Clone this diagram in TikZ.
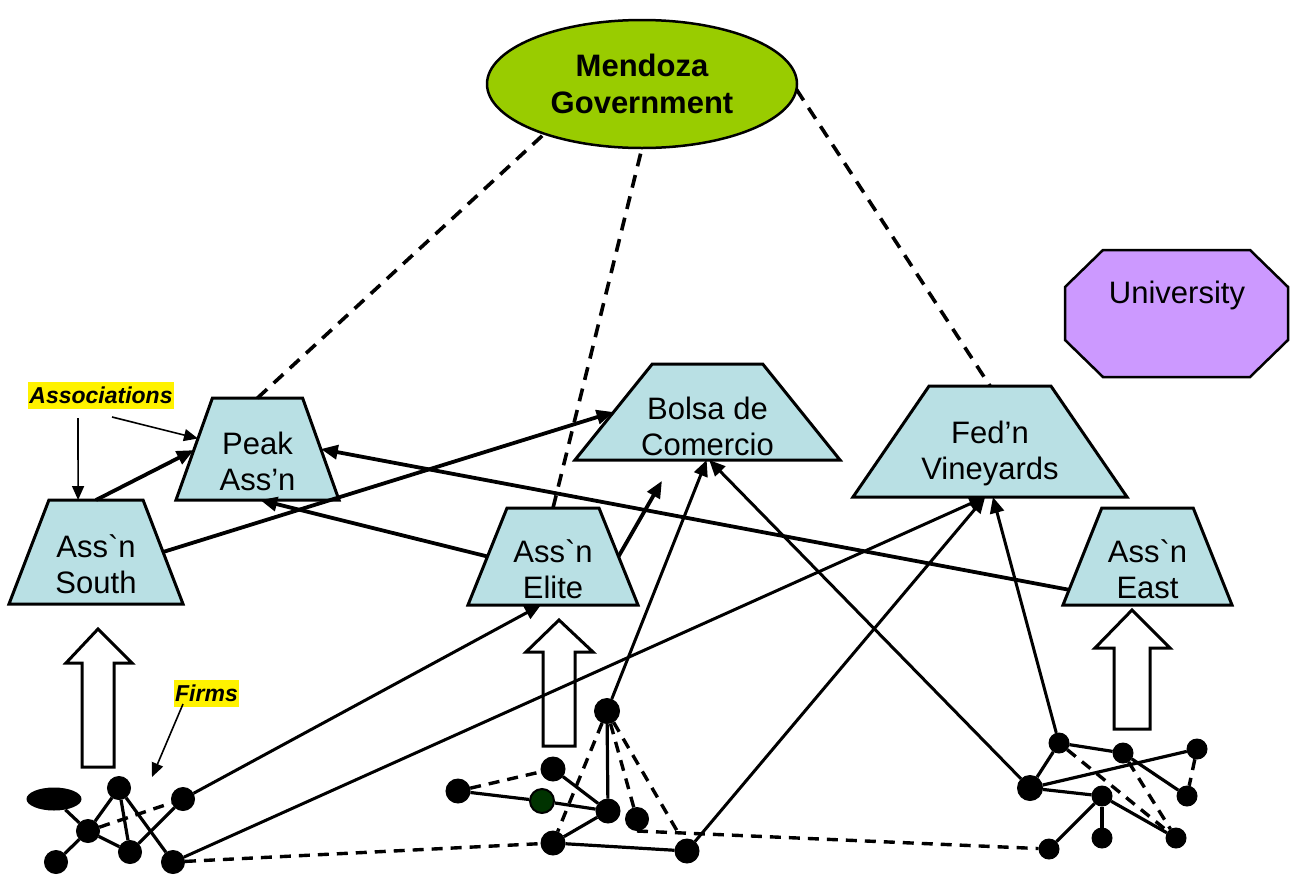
\documentclass[tikz,border=0pt]{standalone}
\usepackage{fontspec}
\setmainfont{Liberation Sans}[Ligatures=TeXOff]
\usetikzlibrary{shapes.geometric,arrows.meta,calc}
\definecolor{govgreen}{RGB}{153,204,0}
\definecolor{assocblue}{RGB}{185,224,228}
\definecolor{unipurple}{RGB}{204,153,255}
\definecolor{firmgreen}{RGB}{0,51,0}
\begin{document}
\begin{tikzpicture}[x=1pt,y=-1pt,
  assoc/.style={trapezium, draw, line width=3pt, fill=assocblue, trapezium stretches=true, inner sep=1pt, outer sep=0pt},
  txt/.style={font=\fontsize{31}{36}\selectfont, align=center},
  hl/.style={fill=yellow, font=\fontsize{23}{27}\selectfont\bfseries\itshape, inner xsep=1pt, inner ysep=0pt, minimum height=27pt},
  firm/.style={circle, fill=black, draw=black, line width=1pt, inner sep=0pt, minimum size=23pt},
  sfirm/.style={firm, minimum size=20pt},
  blockarr/.style={draw, fill=white, line width=3pt, line join=miter},
  bigarr/.style={line width=3.8pt, -{Triangle[length=17pt,width=14pt]}},
  farr/.style={line width=3pt, -{Triangle[length=16pt,width=14pt]}},
  thinarr/.style={line width=1.6pt, -{Triangle[length=14pt,width=12pt]}},
  govdash/.style={line width=3.6pt, dash pattern=on 13pt off 9pt},
  fl/.style={line width=3.2pt},
  fd/.style={line width=3.4pt, dash pattern=on 11pt off 8pt}
]
\useasboundingbox (0,0) rectangle (1295,876);

% block arrows
\draw[blockarr] (98,629) -- (132,663) -- (114,663) -- (114,767) -- (82,767) -- (82,663) -- (66,663) -- cycle;
\draw[blockarr] (559,620) -- (593,652) -- (575,652) -- (575,746) -- (543,746) -- (543,652) -- (526,652) -- cycle;
\draw[blockarr] (1132,610) -- (1170,648) -- (1150,648) -- (1150,729) -- (1114,729) -- (1114,648) -- (1095,648) -- cycle;

% government
\node[ellipse, draw, line width=2.5pt, fill=govgreen, minimum width=310pt, minimum height=128pt, inner sep=0pt, outer sep=0pt, font=\fontsize{31}{37}\selectfont\bfseries, align=center] (gov) at (642,84) {Mendoza\\Government};

% university
\draw[line width=2.5pt, fill=unipurple] (1103,250) -- (1250,250) -- (1288,287) -- (1288,340) -- (1250,377) -- (1103,377) -- (1065,340) -- (1065,287) -- cycle;
\node[txt] (univ) at (1177,295) {University};

% associations
\node[assoc, minimum width=163pt, minimum height=102pt, trapezium left angle=68, trapezium right angle=68,
  label={[txt,yshift=-12pt]center:{Peak\\Ass’n}}] (peak) at (257.5,449) {};
\node[assoc, minimum width=174pt, minimum height=104pt, trapezium left angle=67, trapezium right angle=67,
  label={[txt,yshift=-12pt]center:{Ass`n\\South}}] (south) at (96,552) {};
\node[assoc, minimum width=265pt, minimum height=96pt, trapezium left angle=55, trapezium right angle=55,
  label={[txt,yshift=-14pt]center:{Bolsa de\\Comercio}}] (bolsa) at (707.5,412) {};
\node[assoc, minimum width=170pt, minimum height=97pt, trapezium left angle=67, trapezium right angle=67,
  label={[txt,yshift=-13pt]center:{Ass`n\\Elite}}] (elite) at (553,556.5) {};
\node[assoc, minimum width=274pt, minimum height=111pt, trapezium left angle=58, trapezium right angle=58,
  label={[txt,yshift=-12pt]center:{Fed’n\\Vineyards}}] (fedn) at (990,441.5) {};
\node[assoc, minimum width=169pt, minimum height=97pt, trapezium left angle=67, trapezium right angle=67,
  label={[txt,yshift=-13pt]center:{Ass`n\\East}}] (east) at (1147.5,556.5) {};

% labels
\node[hl] (assoclab) at (101,395.5) {Associations};
\node[hl] (firmlab) at (206.5,693) {Firms};
\coordinate (a1) at (78,418);
\coordinate (a2) at (112,417);
\coordinate (f1) at (183,704);
\coordinate (f2) at (152,777);

% firms: left cluster
\node[ellipse, fill=black, inner sep=0pt, minimum width=55pt, minimum height=23pt] (L1) at (54,799) {};
\node[firm] (L2) at (119,788) {};
\node[firm] (L3) at (88,831) {};
\node[firm] (L4) at (130,852) {};
\node[firm] (L5) at (183,799) {};
\node[firm] (L6) at (173,862) {};
\node[firm] (L7) at (56,862) {};

% middle cluster
\node[firm, minimum size=25pt] (M1) at (607,711) {};
\node[firm, minimum size=24pt] (M2) at (553,769) {};
\node[firm, minimum size=24pt] (M3) at (458,791) {};
\node[firm, minimum size=24pt, fill=firmgreen, line width=2pt] (M4) at (542,801) {};
\node[firm, minimum size=24pt] (M5) at (608,811) {};
\node[firm] (M6) at (637,819) {};
\node[firm, minimum size=24pt] (M7) at (553,843) {};
\node[firm, minimum size=24pt] (M8) at (687,851) {};

% right cluster
\node[sfirm] (R1) at (1059,743) {};
\node[sfirm] (R2) at (1123,753) {};
\node[sfirm] (R3) at (1197,749) {};
\node[firm, minimum size=25pt] (R4) at (1030,788) {};
\node[sfirm] (R5) at (1102,796) {};
\node[sfirm] (R6) at (1187,796) {};
\node[sfirm] (R7) at (1102,838) {};
\node[sfirm] (R8) at (1176,838) {};
\node[sfirm] (R9) at (1049,849) {};
\coordinate (mj) at ($(M6.south)!0.1!(R9)$);

% government links
\draw[govdash] (peak.north) -- (gov.207);
\draw[govdash] (elite.north) -- (gov.south);
\draw[govdash] (gov.358) -- (fedn.north);

% label arrows
\draw[thinarr] (a1) -- (south.109);
\draw[thinarr] (a2) -- (peak.170);
\draw[thinarr] (f1) -- (f2);

% association arrows
\draw[bigarr] (south.90) -- (peak.181);
\draw[bigarr] (south.0) -- (bolsa.180);
\draw[bigarr] (elite.180) -- (peak.273);
\draw[bigarr] (east.203) -- (peak.0);
\draw[bigarr, shorten >=24pt] (elite.0) -- (bolsa.235);

% firm arrows
\draw[farr] (M1) -- (bolsa.269);
\draw[farr] (R4) -- (bolsa.272);
\draw[farr] (L5) -- (elite.256);
\draw[farr] (L6) -- (fedn.265);
\draw[farr] (M8) -- (fedn.265);
\draw[farr] (R1) -- (fedn.273);

% left cluster edges
\draw[fl] (L1) -- (L3);
\draw[fl] (L2) -- (L3);
\draw[fl] (L2) -- (L4);
\draw[fl] (L2) -- (L6);
\draw[fl] (L3) -- (L4);
\draw[fl] (L4) -- (L5);
\draw[fd] (L3) -- (L5);
\draw[fl] (L7) -- (L3);
\draw[fd] (L6) -- (M7);

% middle cluster edges
\draw[fd] (M3) -- (M2);
\draw[fl] (M3) -- (M4);
\draw[fl] (M4) -- (M5);
\draw[fl] (M2) -- (M5);
\draw[fl] (M1) -- (M5);
\draw[fl] (M5) -- (M7);
\draw[fl] (M7) -- (M8);
\draw[fd] (M1) -- (M7);
\draw[fd] (M1) -- (M6);
\draw[fd] (M1) -- (mj);
\draw[fd] (M6.south) -- (R9);

% right cluster edges
\draw[fl] (R1) -- (R2);
\draw[fl] (R1) -- (R4);
\draw[fl] (R4) -- (R3);
\draw[fl] (R2) -- (R6);
\draw[fd] (R3) -- (R6);
\draw[fl] (R4) -- (R5);
\draw[fl] (R5) -- (R8);
\draw[fl] (R5) -- (R7);
\draw[fl] (R5) -- (R9);
\draw[fd] (R1) -- (R8);
\draw[fd] (R2) -- (R8);
\end{tikzpicture}
\end{document}
